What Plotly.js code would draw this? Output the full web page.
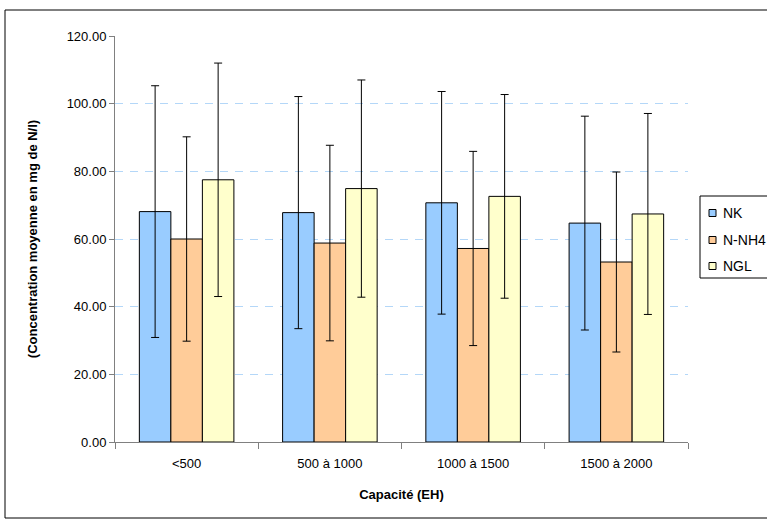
<!DOCTYPE html>
<html>
<head>
<meta charset="utf-8">
<script src="https://cdn.plot.ly/plotly-3.0.1.min.js"></script>
<style>
html,body{margin:0;padding:0;background:#fff;}
#chart{width:767px;height:520px;}
</style>
</head>
<body>
<div id="chart"></div>
<script>
const categories = ["<500", "500 à 1000", "1000 à 1500", "1500 à 2000"];
const seriesNames = ["NK", "N-NH4", "NGL"];
const nkValues = [68.1, 67.8, 70.7, 64.7];
const nkErrors = [37.2, 34.3, 32.9, 31.6];
const nh4Values = [60.0, 58.8, 57.2, 53.2];
const nh4Errors = [30.2, 28.9, 28.7, 26.6];
const nglValues = [77.5, 74.9, 72.6, 67.4];
const nglErrors = [34.5, 32.1, 30.1, 29.7];
const yTickValues = [0, 20, 40, 60, 80, 100, 120];

const colors = ["#99CCFF", "#FFCC99", "#FFFFCC"];
const values = [nkValues, nh4Values, nglValues];
const errors = [nkErrors, nh4Errors, nglErrors];

const traces = seriesNames.map((name, i) => ({
  type: "bar",
  name: name,
  x: categories,
  y: values[i],
  marker: {color: colors[i], line: {color: "#000000", width: 1}},
  error_y: {type: "data", array: errors[i], visible: true, color: "#000000", thickness: 1, width: 4},
  hoverinfo: "x+y"
}));

// plot-area geometry (pixels) used to place legend pieces in paper coords
const M = {l: 115, r: 79, t: 36, b: 78};
const PW = 767 - M.l - M.r, PH = 520 - M.t - M.b;
const px = v => (v - M.l) / PW;
const py = v => (520 - M.b - v) / PH;

const shapes = [{
  type: "rect", xref: "paper", yref: "paper",
  x0: px(5), x1: px(800), y0: py(518), y1: py(10),
  line: {color: "#000000", width: 1}, fillcolor: "rgba(0,0,0,0)", layer: "below"
}, {
  type: "rect", xref: "paper", yref: "paper",
  x0: px(700), x1: px(800), y0: py(278), y1: py(196),
  line: {color: "#000000", width: 1}, fillcolor: "#ffffff", layer: "above"
}];
const annotations = [];
const legendRows = [213, 240, 266];
seriesNames.forEach((name, i) => {
  const cy = legendRows[i];
  shapes.push({
    type: "rect", xref: "paper", yref: "paper",
    x0: px(709), x1: px(716), y0: py(cy + 3.5), y1: py(cy - 3.5),
    line: {color: "#000000", width: 1}, fillcolor: colors[i], layer: "above"
  });
  annotations.push({
    xref: "paper", yref: "paper", x: px(721), y: py(cy),
    xanchor: "left", yanchor: "middle", showarrow: false,
    text: name, font: {size: 14, color: "#000000"}
  });
});

const layout = {
  width: 767, height: 520,
  margin: M,
  paper_bgcolor: "#ffffff",
  plot_bgcolor: "#ffffff",
  font: {family: "Liberation Sans, Arial, sans-serif", size: 13, color: "#000000"},
  barmode: "group",
  bargap: 0.34,
  bargroupgap: 0,
  showlegend: false,
  xaxis: {
    type: "category",
    showline: true, linecolor: "#808080", linewidth: 1,
    ticks: "outside", tickson: "boundaries", ticklen: 6, tickcolor: "#808080",
    ticklabelstandoff: 9,
    showgrid: false, zeroline: false,
    tickfont: {size: 13},
    title: {text: "<b>Capacité (EH)</b>", font: {size: 13}, standoff: 20}
  },
  yaxis: {
    range: [0, 120],
    tickvals: yTickValues,
    tickformat: ".2f",
    showline: true, linecolor: "#808080", linewidth: 1,
    ticks: "outside", ticklen: 5, tickcolor: "#808080",
    showgrid: true, gridcolor: "#B4D7F8", griddash: "8px,7px", gridwidth: 1,
    zeroline: false,
    tickfont: {size: 13},
    title: {text: "<b>(Concentration moyenne en mg de N/l)</b>", font: {size: 13}, standoff: 26}
  },
  shapes: shapes,
  annotations: annotations
};

Plotly.newPlot("chart", traces, layout, {displayModeBar: false, staticPlot: true});
</script>
</body>
</html>
